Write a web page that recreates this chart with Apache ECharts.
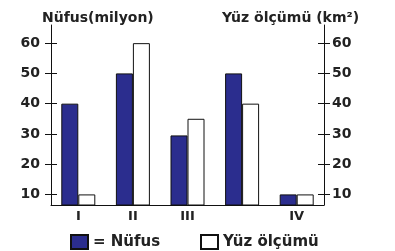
<!DOCTYPE html>
<html>
<head>
<meta charset="utf-8">
<script src="https://cdn.jsdelivr.net/npm/echarts@6/dist/echarts.min.js"></script>
<style>
html, body { margin: 0; padding: 0; background: #fff; }
#main { width: 395px; height: 251px; }
</style>
</head>
<body>
<div id="main"></div>
<script>
// 数据
var categories = ['I', 'II', 'III', '', 'IV'];
var nufus = [40, 50, 29.5, 50, 10];
var yuzOlcumu = [10, 60, 35, 40, 10];
var tickValues = [10, 20, 30, 40, 50, 60];

var chart = echarts.init(document.getElementById('main'));
var font = 'DejaVu Sans, sans-serif';
var txt = '#222';

// 主y轴：轴线+标签
function mainAxis(pos) {
	return {
		type: 'value',
		position: pos,
		min: 6.5,
		max: 66,
		axisLine: { show: true, lineStyle: { color: '#111', width: 1 } },
		axisTick: { show: false },
		axisLabel: {
			customValues: tickValues,
			margin: pos == 'left' ? 11 : 8,
			color: txt,
			fontFamily: font,
			fontSize: 14,
			fontWeight: 'bold'
		},
		splitLine: { show: false }
	};
}

// 辅助y轴：只画穿过轴线的刻度
function tickAxis(pos) {
	return {
		type: 'value',
		position: pos,
		offset: -6,
		min: 6.5,
		max: 66,
		axisLine: { show: false },
		axisTick: { show: true, length: 12, customValues: tickValues, lineStyle: { color: '#111' } },
		axisLabel: { show: false, customValues: tickValues },
		splitLine: { show: false }
	};
}

// 图例
function legendOf(name, left) {
	return {
		data: [name],
		left: left,
		top: 234,
		padding: 0,
		itemWidth: 17,
		itemHeight: 14,
		icon: 'rect',
		textStyle: { fontFamily: font, fontSize: 15, fontWeight: 'bold', color: txt },
		formatter: function(n) {
			return n == 'Nüfus' ? '= Nüfus' : n;
		}
	};
}

var option = {
	animation: false,
	title: [
		{ text: 'Nüfus(milyon)', left: 37, top: 6, textStyle: { fontFamily: font, fontSize: 14, fontWeight: 'bold', color: txt } },
		{ text: 'Yüz ölçümü (km²)', left: 217, top: 6, textStyle: { fontFamily: font, fontSize: 14, fontWeight: 'bold', color: txt } }
	],
	legend: [
		legendOf('Nüfus', 70),
		legendOf('Yüz ölçümü', 200)
	],
	grid: { left: 51, right: 71, top: 25, bottom: 46 },
	xAxis: {
		type: 'category',
		data: categories,
		axisLine: { lineStyle: { color: '#111', width: 1 } },
		axisTick: { show: false },
		axisLabel: { color: txt, fontFamily: font, fontSize: 13, fontWeight: 'bold', margin: 5 }
	},
	yAxis: [
		mainAxis('left'),
		mainAxis('right'),
		tickAxis('left'),
		tickAxis('right')
	],
	series: [
		{
			name: 'Nüfus',
			type: 'bar',
			data: nufus,
			barWidth: 17,
			barGap: '0%',
			itemStyle: { color: '#2b2d8e', borderColor: '#111', borderWidth: 1 }
		},
		{
			name: 'Yüz ölçümü',
			type: 'bar',
			data: yuzOlcumu,
			barWidth: 17,
			barGap: '0%',
			itemStyle: { color: '#fff', borderColor: '#111', borderWidth: 1 }
		}
	]
};

chart.setOption(option);
</script>
</body>
</html>
